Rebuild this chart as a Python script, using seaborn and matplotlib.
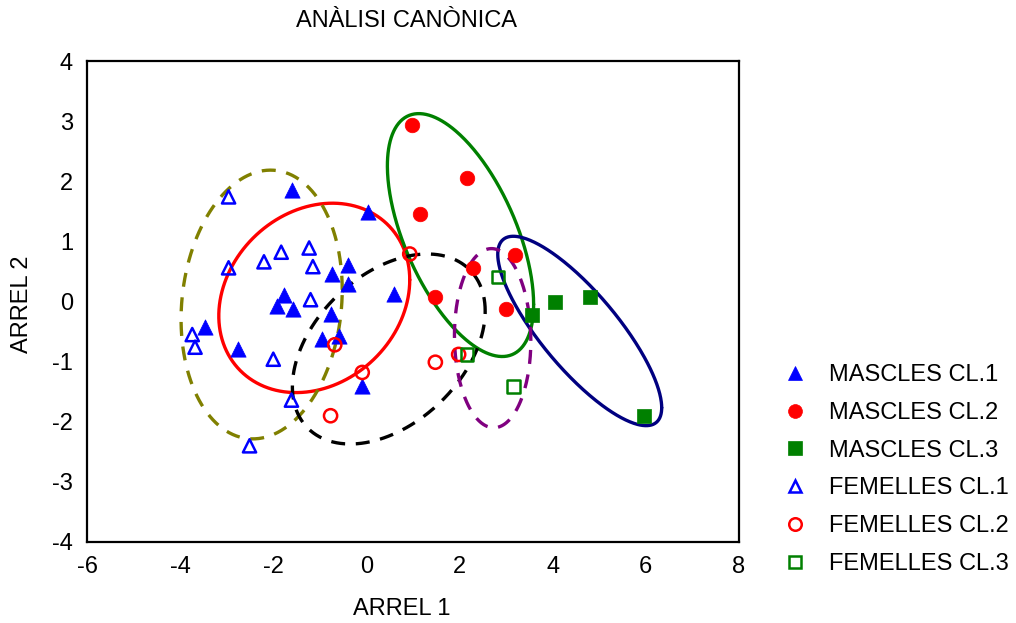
import numpy as np
import pandas as pd
import matplotlib
matplotlib.use("Agg")
import matplotlib.pyplot as plt
from matplotlib.lines import Line2D
import seaborn as sns

# ---------------- data ----------------
groups = ["MASCLES CL.1", "MASCLES CL.2", "MASCLES CL.3",
          "FEMELLES CL.1", "FEMELLES CL.2", "FEMELLES CL.3"]

m1_x = [-1.60, 0.03, -0.73, -0.39, -0.39, 0.59, -1.77, -1.91, -1.57, -0.77,
        -3.46, -0.95, -0.58, -2.76, -0.09]
m1_y = [1.85, 1.49, 0.46, 0.60, 0.29, 0.13, 0.10, -0.07, -0.12, -0.21,
        -0.43, -0.62, -0.57, -0.79, -1.40]

m2_x = [0.98, 2.16, 1.15, 1.48, 2.29, 3.20, 3.00]
m2_y = [2.93, 2.05, 1.45, 0.07, 0.56, 0.77, -0.12]

m3_x = [3.55, 4.04, 4.81, 5.95]
m3_y = [-0.22, 0.00, 0.07, -1.90]

f1_x = [-2.96, -2.96, -2.20, -1.83, -1.23, -1.15, -1.20, -3.74, -3.68, -2.00,
        -1.61, -2.51]
f1_y = [1.74, 0.56, 0.66, 0.82, 0.89, 0.58, 0.03, -0.55, -0.76, -0.96,
        -1.64, -2.40]

f2_x = [-0.68, -0.09, -0.77, 0.93, 1.48, 1.98]
f2_y = [-0.72, -1.18, -1.90, 0.79, -1.01, -0.88]

f3_x = [2.83, 2.16, 3.16]
f3_y = [0.41, -0.88, -1.41]

# ellipses: centre x, centre y, half-width x, half-height y, correlation
ell_cx = [-1.12, 2.02, 4.58, -2.25, 0.48, 2.71]
ell_cy = [0.06, 1.105, -0.49, -0.05, -0.79, -0.61]
ell_sx = [2.05, 1.57, 1.76, 1.73, 2.07, 0.82]
ell_sy = [1.575, 2.02, 1.575, 2.235, 1.58, 1.49]
ell_rho = [0.19, -0.57, -0.81, 0.11, 0.40, -0.03]

xticks = [-6, -4, -2, 0, 2, 4, 6, 8]
yticks = [-4, -3, -2, -1, 0, 1, 2, 3, 4]

# ---------------- style ----------------
sns.set_style("white")
plt.rcParams["font.family"] = ["Liberation Sans", "DejaVu Sans"]
plt.rcParams["axes.unicode_minus"] = False
plt.rcParams["text.color"] = "black"
plt.rcParams["axes.labelcolor"] = "black"
plt.rcParams["xtick.color"] = "black"
plt.rcParams["ytick.color"] = "black"

colors = ["#0000FF", "#FF0000", "#008000", "#0000FF", "#FF0000", "#008000"]
markers = ["^", "o", "s", "^", "o", "s"]
filled = [True, True, True, False, False, False]
msizes = [11, 10.5, 10, 9.5, 9.5, 9]

ell_colors = ["#FF0000", "#008000", "#000080", "#808000", "#000000", "#800080"]
ell_dashed = [False, False, False, True, True, True]

xs = [m1_x, m2_x, m3_x, f1_x, f2_x, f3_x]
ys = [m1_y, m2_y, m3_y, f1_y, f2_y, f3_y]

fig = plt.figure(figsize=(10.16, 6.23), dpi=100)
ax = fig.add_axes([87 / 1016, 1 - 542 / 623, (739 - 87) / 1016, (542 - 61) / 623])

# ellipses
t = np.linspace(0, 2 * np.pi, 400)
for i in range(6):
    ex = ell_cx[i] + ell_sx[i] * np.cos(t)
    ey = ell_cy[i] + ell_sy[i] * (ell_rho[i] * np.cos(t) + np.sqrt(1 - ell_rho[i] ** 2) * np.sin(t))
    edf = pd.DataFrame({"x": ex, "y": ey})
    sns.lineplot(data=edf, x="x", y="y", ax=ax, color=ell_colors[i], linewidth=2.4,
                 sort=False, estimator=None, zorder=2)
    if ell_dashed[i]:
        ax.lines[-1].set_dashes((4.2, 3.2))

# points
for i in range(6):
    df = pd.DataFrame({"x": xs[i], "y": ys[i]})
    s = msizes[i] ** 2
    if filled[i]:
        sns.scatterplot(data=df, x="x", y="y", ax=ax, marker=markers[i], s=s,
                        color=colors[i], edgecolor=colors[i], linewidth=0.5, zorder=3)
    else:
        sns.scatterplot(data=df, x="x", y="y", ax=ax, marker=markers[i], s=s,
                        color=colors[i], facecolors="none", edgecolor=colors[i],
                        linewidth=1.8, zorder=3)

ax.set_xlim(-6, 8)
ax.set_ylim(-4, 4)
ax.set_xticks(xticks)
ax.set_yticks(yticks)
ax.set_xticklabels([str(v) for v in xticks])
ax.set_yticklabels([str(v) for v in yticks])
ax.tick_params(axis="both", direction="in", length=4, width=1.2, labelsize=17,
               colors="black", pad=10)
ax.tick_params(axis="y", pad=10)
for sp in ax.spines.values():
    sp.set_visible(True)
    sp.set_color("black")
    sp.set_linewidth(1.6)
ax.set_xlabel("")
ax.set_ylabel("")

fig.text(407 / 1016, 1 - 21 / 623, "ANÀLISI CANÒNICA", ha="center", va="center", fontsize=17)
fig.text(402 / 1016, 1 - 609 / 623, "ARREL 1", ha="center", va="center", fontsize=17)
fig.text(22 / 1016, 1 - 304 / 623, "ARREL 2", ha="center", va="center", fontsize=17,
         rotation=90)

handles = []
for i in range(6):
    handles.append(Line2D([], [], linestyle="none", marker=markers[i],
                          markersize=msizes[i] * 0.95,
                          markerfacecolor=colors[i] if filled[i] else "none",
                          markeredgecolor=colors[i],
                          markeredgewidth=0.5 if filled[i] else 1.8))
fig.legend(handles, groups, loc="upper left", bbox_to_anchor=(783 / 1016, 1 - 364 / 623),
           frameon=False, fontsize=17, handlelength=1.0, handletextpad=0.95,
           borderpad=0, borderaxespad=0, labelspacing=0.67)

fig.savefig("out.png", dpi=100)
